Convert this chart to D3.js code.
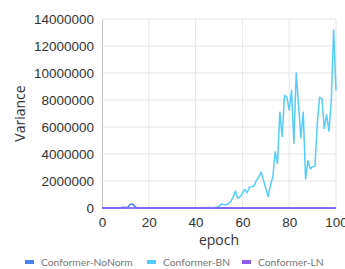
<!DOCTYPE html>
<html>
<head>
<meta charset="utf-8">
<script src="https://cdn.jsdelivr.net/npm/d3@7"></script>
<style>
  body { margin: 0; background: #fff; }
  svg { display: block; font-family: "Open Sans", sans-serif; }
</style>
</head>
<body>
<div class="chart"></div>
<script>
// 資料
const seriesNames = ['Conformer-NoNorm', 'Conformer-BN', 'Conformer-LN'];
const seriesColors = ['#4f7ff2', '#55cdfb', '#8f5cf2'];
const xTicks = [0, 20, 40, 60, 80, 100];
const yTicks = [0, 2000000, 4000000, 6000000, 8000000, 10000000, 12000000, 14000000];

const epochs = d3.range(0, 101);
// Conformer-NoNorm: small bump near epoch 12, otherwise ~0
const noNormValues = [
  0, 0, 0, 0, 0, 0, 0, 0, 20000, 60000,
  30000, 60000, 260000, 300000, 120000, 0, 0, 0, 0, 0,
  0, 0, 0, 0, 0, 0, 0, 0, 0, 0,
  0, 0, 0, 0, 0, 0, 0, 0, 0, 0,
  0, 0, 0, 0, 0, 0, 0, 0, 0, 0,
  0, 0, 0, 0, 0, 0, 0, 0, 0, 0,
  0, 0, 0, 0, 0, 0, 0, 0, 0, 0,
  0, 0, 0, 0, 0, 0, 0, 0, 0, 0,
  0, 0, 0, 0, 0, 0, 0, 0, 0, 0,
  0, 0, 0, 0, 0, 0, 0, 0, 0, 0,
  0
];
// Conformer-BN
const bnValues = [
  0, 0, 0, 0, 0, 0, 0, 0, 0, 0,
  0, 0, 0, 0, 0, 0, 0, 0, 0, 0,
  0, 0, 0, 0, 0, 0, 0, 0, 0, 0,
  0, 0, 0, 0, 0, 0, 0, 0, 0, 0,
  0, 0, 0, 20000, 40000, 20000, 30000, 20000, 30000, 60000,
  120000, 300000, 250000, 250000, 320000, 480000, 800000, 1260000, 720000, 840000,
  1080000, 1380000, 1130000, 1550000, 1580000, 1630000, 2050000, 2300000, 2660000, 2070000,
  1450000, 840000, 1700000, 2300000, 4170000, 3300000, 7100000, 5300000, 8350000, 8200000,
  7250000, 8700000, 4800000, 10000000, 7600000, 5200000, 7100000, 2150000, 3500000, 2900000,
  3050000, 3100000, 6250000, 8200000, 8100000, 5900000, 6900000, 5700000, 8000000, 13200000,
  8700000
];
// Conformer-LN: flat near 0
const lnValues = epochs.map(() => 0);

const allValues = [noNormValues, bnValues, lnValues];

const W = 345, H = 269;
const margin = { top: 19, right: 9, bottom: 61, left: 102 };
const innerW = W - margin.left - margin.right;
const innerH = H - margin.top - margin.bottom;

const svg = d3.select('.chart').append('svg')
  .attr('width', W)
  .attr('height', H);

const g = svg.append('g')
  .attr('transform', `translate(${margin.left},${margin.top})`);

const xScale = d3.scaleLinear().domain([0, 100]).range([0, innerW]);
const yScale = d3.scaleLinear().domain([0, 14000000]).range([innerH, 0]);

// 格線
g.append('g')
  .selectAll('line.h')
  .data(yTicks.slice(1))
  .enter().append('line')
  .attr('x1', 0).attr('x2', innerW)
  .attr('y1', d => yScale(d)).attr('y2', d => yScale(d))
  .attr('stroke', '#e6e6e6').attr('stroke-width', 1);

g.append('g')
  .selectAll('line.v')
  .data(xTicks.slice(1))
  .enter().append('line')
  .attr('x1', d => xScale(d)).attr('x2', d => xScale(d))
  .attr('y1', 0).attr('y2', innerH)
  .attr('stroke', '#e6e6e6').attr('stroke-width', 1);

// 座標軸
const yAxis = d3.axisLeft(yScale).tickValues(yTicks).tickSize(0).tickPadding(8).tickFormat(d3.format('d'));
const xAxis = d3.axisBottom(xScale).tickValues(xTicks).tickSize(0).tickPadding(9);

const yG = g.append('g').call(yAxis);
yG.select('.domain').attr('stroke', '#c8c8c8');
yG.selectAll('text').attr('fill', '#333').style('font-size', '13.5px');

const xG = g.append('g').attr('transform', `translate(0,${innerH})`).call(xAxis);
xG.select('.domain').attr('stroke', '#c8c8c8');
xG.selectAll('text').attr('fill', '#333').style('font-size', '13.5px');

// 軸名稱
svg.append('text')
  .attr('transform', `translate(25,${margin.top + innerH / 2}) rotate(-90)`)
  .attr('text-anchor', 'middle')
  .attr('fill', '#333')
  .style('font-size', '14px')
  .text('Variance');

svg.append('text')
  .attr('x', margin.left + innerW / 2)
  .attr('y', 245)
  .attr('text-anchor', 'middle')
  .attr('fill', '#333')
  .style('font-size', '14px')
  .text('epoch');

// 線
const line = d3.line()
  .x((d, i) => xScale(epochs[i]))
  .y(d => yScale(d));

[1, 0, 2].forEach(k => {
  g.append('path')
    .attr('fill', 'none')
    .attr('stroke', seriesColors[k])
    .attr('stroke-width', 1.5)
    .attr('stroke-linejoin', 'round')
    .attr('d', line(allValues[k]));
});

// 圖例
const legendX = [25, 147, 242];
const legend = svg.append('g').attr('transform', 'translate(0,262)');
seriesNames.forEach((name, i) => {
  legend.append('rect')
    .attr('x', legendX[i]).attr('y', -2)
    .attr('width', 9).attr('height', 4)
    .attr('fill', seriesColors[i]);
  legend.append('text')
    .attr('x', legendX[i] + 16).attr('y', 0)
    .attr('dy', '0.35em')
    .attr('fill', '#777')
    .style('font-family', 'Lato, sans-serif')
    .style('font-size', '10.3px')
    .text(name);
});
</script>
</body>
</html>
